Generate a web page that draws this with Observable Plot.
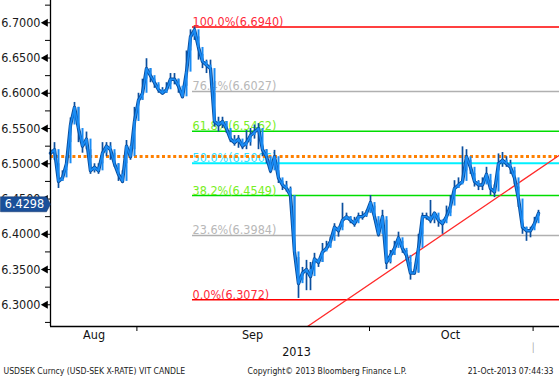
<!DOCTYPE html>
<html><head><meta charset="utf-8">
<script src="https://cdn.jsdelivr.net/npm/d3@7"></script>
<script src="https://cdn.jsdelivr.net/npm/@observablehq/plot@0.6"></script>
<style>body{margin:0;background:#fff;} svg{display:block;}</style>
</head><body><div id="chart"></div>
<script>
// USD/SEK per bar: close, low, high (index = bar number)
const closes = [
 6.515,6.52,6.475,6.48,6.50,6.555,6.58,6.55,6.525,6.535,
 6.49,6.495,6.49,6.515,6.525,6.52,6.50,6.485,6.475,6.525,
 6.51,6.56,6.59,6.60,6.635,6.625,6.615,6.605,6.60,6.605,
 6.62,6.62,6.61,6.595,6.63,6.68,6.69,6.665,6.645,6.64,
 6.635,6.56,6.555,6.56,6.55,6.535,6.53,6.535,6.525,6.53,
 6.54,6.545,6.55,6.52,6.51,6.49,6.51,6.48,6.47,6.465,
 6.455,6.375,6.33,6.345,6.35,6.34,6.365,6.36,6.375,6.38,
 6.39,6.41,6.405,6.42,6.425,6.42,6.415,6.425,6.425,6.43,
 6.445,6.425,6.40,6.425,6.36,6.37,6.38,6.395,6.38,6.37,
 6.345,6.345,6.38,6.425,6.425,6.42,6.43,6.42,6.415,6.425,
 6.44,6.465,6.47,6.475,6.51,6.495,6.475,6.47,6.47,6.485,
 6.465,6.46,6.50,6.505,6.50,6.495,6.48,6.45,6.41,6.405,
 6.405,6.415,6.4298
];
const lows = [
 6.505,6.505,6.465,6.475,6.49,6.53,6.565,6.53,6.515,6.52,
 6.485,6.487,6.485,6.50,6.51,6.505,6.495,6.475,6.472,6.50,
 6.505,6.52,6.585,6.59,6.62,6.615,6.607,6.60,6.598,6.60,
 6.612,6.612,6.60,6.593,6.61,6.66,6.675,6.647,6.635,6.628,
 6.628,6.552,6.545,6.55,6.543,6.53,6.525,6.522,6.52,6.52,
 6.525,6.535,6.52,6.51,6.50,6.486,6.50,6.472,6.462,6.46,
 6.452,6.37,6.309,6.335,6.32,6.32,6.358,6.353,6.36,6.377,
 6.382,6.40,6.396,6.41,6.42,6.415,6.41,6.42,6.42,6.424,
 6.43,6.42,6.396,6.42,6.35,6.358,6.37,6.385,6.373,6.363,
 6.335,6.342,6.345,6.40,6.42,6.415,6.415,6.41,6.40,6.42,
 6.43,6.455,6.465,6.472,6.49,6.485,6.467,6.462,6.462,6.475,
 6.455,6.452,6.49,6.495,6.495,6.485,6.47,6.438,6.40,6.39,
 6.395,6.41,6.425
];
const highs = [
 6.52,6.53,6.50,6.49,6.51,6.565,6.587,6.58,6.535,6.545,
 6.52,6.50,6.50,6.53,6.53,6.53,6.515,6.50,6.49,6.533,
 6.52,6.58,6.60,6.62,6.649,6.635,6.62,6.612,6.608,6.615,
 6.628,6.628,6.62,6.60,6.66,6.69,6.694,6.68,6.655,6.647,
 6.647,6.60,6.566,6.566,6.56,6.547,6.54,6.54,6.53,6.547,
 6.55,6.555,6.557,6.525,6.52,6.505,6.519,6.49,6.475,6.475,
 6.467,6.455,6.367,6.353,6.363,6.36,6.373,6.363,6.387,6.39,
 6.396,6.415,6.41,6.444,6.43,6.425,6.424,6.43,6.432,6.434,
 6.455,6.44,6.42,6.434,6.42,6.377,6.39,6.403,6.39,6.377,
 6.36,6.35,6.40,6.43,6.43,6.448,6.43,6.424,6.42,6.44,
 6.455,6.476,6.48,6.524,6.52,6.505,6.486,6.476,6.48,6.495,
 6.476,6.47,6.514,6.516,6.51,6.505,6.49,6.467,6.415,6.41,
 6.41,6.424,6.434
];
const yTicks = [6.30,6.35,6.40,6.45,6.50,6.55,6.60,6.65,6.70];
const yMinor = [6.275,6.325,6.375,6.425,6.475,6.525,6.575,6.625,6.675,6.725];
const monthTicks = [21.6, 79.75, 120.65];
const monthLabels = ["Aug","Sep","Oct"];
const monthLabelPos = [10.9, 50.5, 100];
const yearLabel = "2013";
const yearLabelPos = 61.5;
const fibPct = ["100.0%","76.4%","61.8%","50.0%","38.2%","23.6%","0.0%"];
const fibVal = [6.6940,6.6027,6.5462,6.5006,6.4549,6.3984,6.3072];
const fibLine = ["#ff0000","#b0b0b0","#00dd00","#00f0ff","#00dd00","#b0b0b0","#ff0000"];
const fibText = ["#ff2a3a","#b8b8b8","#77ee22","#33e0ff","#77ee22","#b8b8b8","#ff2a3a"];
const fibStart = 35.5;
const prevClose = 6.5104;
const trendX = [64.25, 127.25];
const trendY = [6.2692, 6.5123];
const footLeft = "USDSEK Curncy (USD-SEK X-RATE) VIT CANDLE";
const footMid = "Copyright\u00A9 2013 Bloomberg Finance L.P.";
const footRight = "21-Oct-2013 07:44:33";

const series = closes.map((v,i)=>({i, v, lo: lows[i], hi: highs[i], o: i ? closes[i-1] : v}));
const fib = fibPct.map((p,k)=>({p, v: fibVal[k], lc: fibLine[k], tc: fibText[k], label: `${p}(${fibVal[k].toFixed(4)})`}));
const xMax = 127.25;
const yMin = 6.2692, yMax = 6.7316;
const last = closes[closes.length-1];
const font = "DejaVu Sans Condensed";

const tag = {
  draw(ctx, size) {
    ctx.moveTo(-50,-7.5); ctx.lineTo(-4,-7.5); ctx.lineTo(0,0);
    ctx.lineTo(-4,7.5); ctx.lineTo(-50,7.5); ctx.closePath();
  }
};

const chart = Plot.plot({
  width: 559, height: 376,
  marginLeft: 50, marginRight: 0, marginTop: 0, marginBottom: 50,
  style: {fontFamily: font, background: "#fff", overflow: "visible"},
  x: {domain: [0, xMax], axis: null},
  y: {domain: [yMin, yMax], axis: null},
  marks: [
    // fib lines and labels
    Plot.ruleY(fib, {y: "v", x1: fibStart, x2: xMax, stroke: d=>d.lc, strokeWidth: d=>d.p==="50.0%"?2:1.5}),
    Plot.text(fib, {x: fibStart, y: "v", text: "label", fill: d=>d.tc, textAnchor: "start", lineAnchor: "bottom", dy: -1, fontSize: 12.5}),
    // previous close dotted
    Plot.ruleY([prevClose], {x1: 0, x2: xMax, stroke: "#ff8000", strokeWidth: 3, strokeDasharray: "3,2.6"}),
    // trend line
    Plot.line(trendX.map((x,k)=>({x, y: trendY[k]})), {x: "x", y: "y", stroke: "#ff2a2a", strokeWidth: 1.3, clip: true}),
    // price candles (wicks + bodies) and connecting line
    Plot.ruleX(series, {x: "i", y1: "lo", y2: "hi", stroke: "#0b4f9e", strokeWidth: 1.7}),
    Plot.line(series, {x: "i", y: "v", stroke: "#0b4f9e", strokeWidth: 3.4}),
    Plot.ruleX(series, {x: "i", y1: "o", y2: "v", stroke: "#1a8cf5", strokeWidth: 2}),
    Plot.line(series, {x: "i", y: "v", stroke: "#1a8cf5", strokeWidth: 1.5}),
    // axes lines
    Plot.ruleX([0], {stroke: "#000", strokeWidth: 1.3}),
    Plot.ruleY([yMin], {stroke: "#000", strokeWidth: 1.3}),
    Plot.axisY(yMinor, {tickSize: 5, tickFormat: () => "", stroke: "#000"}),
    Plot.axisY(yTicks, {tickSize: 6, tickPadding: 4, tickFormat: d => d.toFixed(4), fontSize: 12.5, fill: "#1a1a1a", stroke: "#000"}),
    Plot.dot(yTicks, {x: 0, y: d=>d, symbol: "triangle", r: 3, fill: "#000", stroke: null, rotate: -90, dx: -5}),
    Plot.axisX(monthTicks, {tickSize: 5, tickFormat: () => "", stroke: "#000"}),
    Plot.text(monthLabels, {x: (d,k)=>monthLabelPos[k], text: d=>d, frameAnchor: "bottom", dy: 12, fontSize: 12.5, fill: "#111"}),
    Plot.text([yearLabel], {x: yearLabelPos, text: d=>d, frameAnchor: "bottom", dy: 29, fontSize: 12.5, fill: "#111"}),
    Plot.text(["\u2502"], {x: monthTicks[2], text: d=>d, frameAnchor: "bottom", dy: 24, fontSize: 9, fill: "#999"}),
    // last price tag
    Plot.dot([last], {x: 0, y: d=>d, symbol: tag, fill: "#1a4f99", stroke: "#0d2f66", strokeWidth: 0.5, dy: -9}),
    Plot.text([last], {x: 0, y: d=>d, text: d=>d.toFixed(4), fill: "#fff", dx: -26, dy: -9, fontSize: 12.5}),
    // footer
    Plot.text([footLeft], {frameAnchor: "bottom-left", text: d=>d, textAnchor: "start", dx: -47, dy: 47, fontSize: 8.6, fill: "#1a1a1a"}),
    Plot.text([footMid], {frameAnchor: "bottom-left", text: d=>d, textAnchor: "start", dx: 197, dy: 47, fontSize: 8.6, fill: "#1a1a1a"}),
    Plot.text([footRight], {frameAnchor: "bottom-right", text: d=>d, textAnchor: "end", dx: -6, dy: 47, fontSize: 8.6, fill: "#1a1a1a"})
  ]
});
document.getElementById("chart").appendChild(chart);
</script>
</body></html>
